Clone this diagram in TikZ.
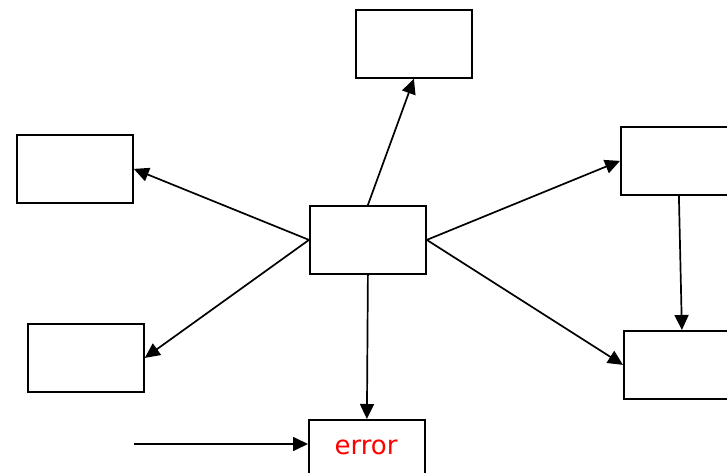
\documentclass[tikz,border=0pt]{standalone}
\usepackage{fontspec}
\newfontfamily\errfont{DejaVu Sans}
\usetikzlibrary{arrows.meta}
\begin{document}
\begin{tikzpicture}[x=1pt,y=-1pt,
  box/.style={draw,line width=1.8pt,minimum width=116pt,minimum height=68pt,inner sep=0pt,anchor=north west,fill=white},
  conn/.style={line width=1.7pt,-{Triangle[length=15pt,width=14pt]}}]
\useasboundingbox (0,0) rectangle (727,473);
\clip (0,0) rectangle (727,473);
\node[box] (top) at (355,9) {};
\node[box] (l1) at (16,134) {};
\node[box] (c) at (309,205) {};
\node[box] (r1) at (620,126) {};
\node[box] (l2) at (27,323) {};
\node[box] (r2) at (623,330) {};
\node[box] (err) at (308,419) {};
\node[text=red,font=\errfont\fontsize{26}{30}\selectfont] (errtext) at (366,447) {error};
\coordinate (f) at (134,444);
\draw[conn] (c.north) -- (top.south);
\draw[conn] (c.west) -- (l1.east);
\draw[conn] (c.west) -- (l2.east);
\draw[conn] (c.east) -- (r1.west);
\draw[conn] (c.east) -- (r2.west);
\draw[conn] (c.south) -- (err.north);
\draw[conn] (r1.south) -- (r2.north);
\draw[conn] (f) -- (f -| err.west);
\end{tikzpicture}
\end{document}
